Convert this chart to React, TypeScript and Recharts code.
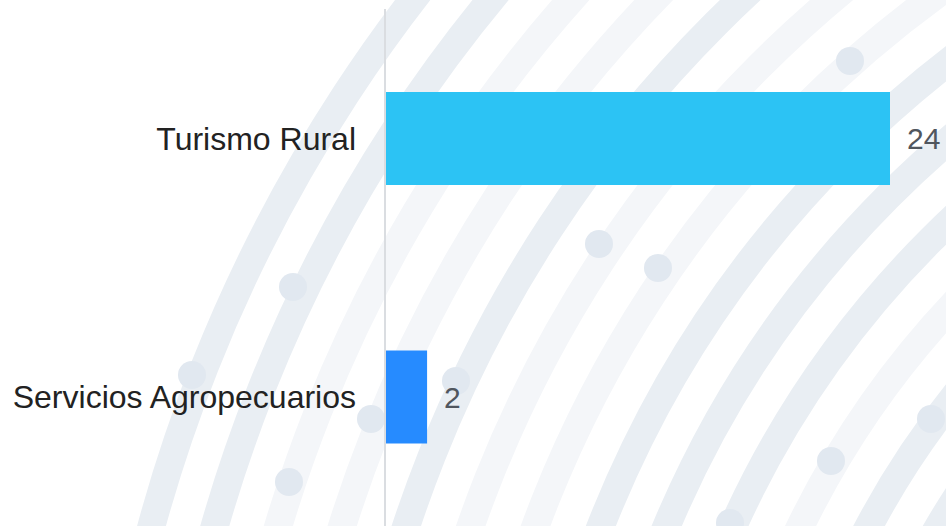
import { BarChart, Bar, XAxis, YAxis, Cell, LabelList } from 'recharts';

// chart data
const categories = ['Turismo Rural', 'Servicios Agropecuarios'];
const counts = [24, 2];
const barColors = ['#2cc3f4', '#268bff'];

const data = categories.map((name, i) => ({ name, value: counts[i] }));

// decorative background: concentric bands + a few dots
const RING_CX = 1618;
const RING_CY = 926;
const ringShades = ['d', 'd', 'l', 'l', 'd', 'l', 'l', 'd', 'd', 'd', 'l', 'd', 'd'];
const dots = [
  [850, 61], [599, 244], [658, 268], [293, 287], [192, 375], [456, 381],
  [371, 419], [289, 482], [831, 461], [931, 419], [730, 523],
];

const Background = () => (
  <svg width={946} height={526} style={{ position: 'absolute', left: 0, top: 0 }}>
    {ringShades.map((s, k) => (
      <circle
        key={k}
        cx={RING_CX}
        cy={RING_CY}
        r={1520 - 61 * k}
        fill="none"
        stroke={s === 'd' ? '#e9eef3' : '#f4f6f9'}
        strokeWidth={28}
      />
    ))}
    {dots.map(([x, y], i) => (
      <circle key={i} cx={x} cy={y} r={14} fill="#e1e8f0" />
    ))}
  </svg>
);

export default function App() {
  return (
    <div style={{ position: 'absolute', left: 0, top: 0, width: 946, height: 526, background: '#fff', overflow: 'hidden' }}>
      <Background />
      <div style={{ position: 'absolute', left: 0, top: 0 }}>
        <BarChart
          width={946}
          height={526}
          data={data}
          layout="vertical"
          margin={{ top: 9, right: 56, bottom: 0, left: 0 }}
          style={{ fontFamily: '"Liberation Sans", Arial, sans-serif' }}
        >
          <XAxis type="number" hide domain={[0, 24]} />
          <YAxis
            type="category"
            dataKey="name"
            width={385}
            tickLine={false}
            tickSize={0}
            tickMargin={29}
            axisLine={{ stroke: '#dadde1', strokeWidth: 2 }}
            tick={{ fill: '#222222', fontSize: 32 }}
          />
          <Bar dataKey="value" barSize={93} isAnimationActive={false}>
            {data.map((d, i) => (
              <Cell key={d.name} fill={barColors[i]} />
            ))}
            <LabelList dataKey="value" position="right" offset={17} fill="#50565e" fontSize={30} />
          </Bar>
        </BarChart>
      </div>
    </div>
  );
}
